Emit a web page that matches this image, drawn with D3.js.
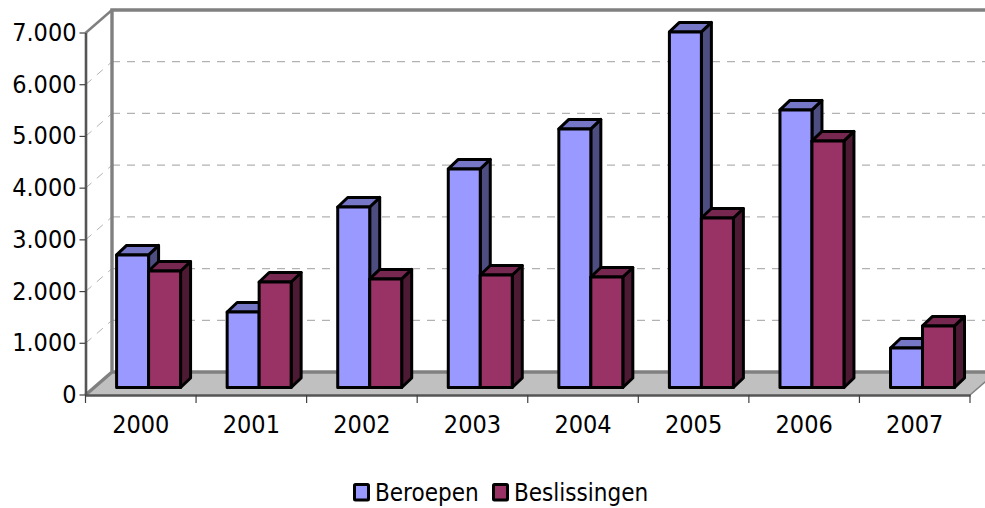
<!DOCTYPE html>
<html>
<head>
<meta charset="utf-8">
<script src="https://cdn.jsdelivr.net/npm/d3@7"></script>
<style>
  html, body { margin: 0; padding: 0; background: #fff; overflow: hidden; }
  text { font-family: "DejaVu Sans Condensed", "DejaVu Sans", sans-serif; fill: #000; }
</style>
</head>
<body>
<script>
//chart data
var years = ["2000", "2001", "2002", "2003", "2004", "2005", "2006", "2007"];
var beroepen = [2563, 1460, 3491, 4226, 5000, 6876, 5367, 764];
var beslissingen = [2253, 2040, 2099, 2176, 2137, 3278, 4768, 1190];
var seriesNames = ["Beroepen", "Beslissingen"];
var yTicks = [0, 1000, 2000, 3000, 4000, 5000, 6000, 7000];

var seriesValues = [beroepen, beslissingen];
var seriesColors = ["#9999ff", "#993366"];

var width = 985, height = 508;

//front plane of the 3d box
var plotLeft = 85.5, plotRight = 970, plotBottom = 395, plotTop = 33;
//how far the back wall sits from the front plane
var depthX = 26.5, depthY = 23;
//where the bars stand inside the box, and how deep they are
var barOffsetX = 7.8, barOffsetY = 7.5, barDepthX = 10, barDepthY = 9.5;

var svg = d3.select("body").append("svg")
    .attr("width", width)
    .attr("height", height);

var xScale = d3.scaleBand().domain(years).range([plotLeft, plotRight]).paddingInner(0).paddingOuter(0);
var yScale = d3.scaleLinear().domain([0, 7000]).range([plotBottom, plotTop]);
var seriesScale = d3.scaleBand().domain(seriesNames).range([0, xScale.bandwidth()]).paddingInner(0).paddingOuter(0.728);

//thousands with a dot, dutch style
var fmt = d3.formatLocale({decimal: ",", thousands: ".", grouping: [3], currency: ["€", ""]}).format(",d");

//gridlines on the back wall + the short diagonals on the side wall
var grid = svg.append("g");
yTicks.filter(function(d) { return d > 0 && d < 7000; }).forEach(function(d) {
    grid.append("line")
        .attr("x1", plotLeft + depthX).attr("x2", width)
        .attr("y1", yScale(d) - depthY).attr("y2", yScale(d) - depthY)
        .attr("stroke", "#b2b2b2").attr("stroke-width", 1.2)
        .attr("stroke-dasharray", "8,7");
    grid.append("line")
        .attr("x1", plotLeft).attr("x2", plotLeft + depthX)
        .attr("y1", yScale(d)).attr("y2", yScale(d) - depthY)
        .attr("stroke", "#b2b2b2").attr("stroke-width", 1)
        .attr("stroke-dasharray", "8,7");
});

//floor
svg.append("path")
    .attr("d", d3.line()([[plotLeft, plotBottom], [plotLeft + depthX, plotBottom - depthY], [plotRight + depthX, plotBottom - depthY], [plotRight, plotBottom]]) + "Z")
    .attr("fill", "#c0c0c0");

//walls
svg.append("path")
    .attr("d", d3.line()([[plotLeft, yScale(0)], [plotLeft + depthX, yScale(0) - depthY], [plotLeft + depthX, yScale(7000) - depthY], [width, yScale(7000) - depthY]]))
    .attr("fill", "none").attr("stroke", "#808080").attr("stroke-width", 3.4);
svg.append("line")
    .attr("x1", plotLeft + depthX).attr("x2", width)
    .attr("y1", plotBottom - depthY).attr("y2", plotBottom - depthY)
    .attr("stroke", "#808080").attr("stroke-width", 3.4);
svg.append("line")
    .attr("x1", plotLeft).attr("x2", plotLeft + depthX)
    .attr("y1", yScale(7000)).attr("y2", yScale(7000) - depthY)
    .attr("stroke", "#808080").attr("stroke-width", 2.5);
svg.append("line")
    .attr("x1", plotRight).attr("x2", plotRight + depthX)
    .attr("y1", plotBottom).attr("y2", plotBottom - depthY)
    .attr("stroke", "#808080").attr("stroke-width", 1.5);

//axes
var yAxis = svg.append("g")
    .attr("transform", "translate(" + plotLeft + ",-0.5)")
    .call(d3.axisLeft(yScale).tickValues(yTicks).tickFormat(fmt).tickSize(6).tickSizeOuter(0).tickPadding(3));
var xAxis = svg.append("g")
    .attr("transform", "translate(0," + plotBottom + ")")
    .call(d3.axisBottom(xScale).tickSize(0).tickPadding(20));
xAxis.selectAll(".tickmark")
    .data(d3.range(years.length + 1))
    .enter().append("line")
    .attr("class", "tickmark")
    .attr("x1", function(d) { return plotLeft + d * xScale.step(); })
    .attr("x2", function(d) { return plotLeft + d * xScale.step(); })
    .attr("y1", 0).attr("y2", 8)
    .attr("stroke", "#404040").attr("stroke-width", 1.2);
[yAxis, xAxis].forEach(function(a) {
    a.selectAll("text").style("font-size", "25px");
    a.attr("font-family", null).attr("font-size", null);
    a.select(".domain").attr("stroke", "#555").attr("stroke-width", 2.6);
    a.selectAll(".tick line").attr("stroke", "#404040").attr("stroke-width", 1.2);
});

//one 3d bar: side, top, then front
function drawBar(g, x, w, yTop, yBase, color) {
    var c = d3.rgb(color);
    var side = [[x + w, yTop], [x + w + barDepthX, yTop - barDepthY], [x + w + barDepthX, yBase - barDepthY], [x + w, yBase]];
    var topFace = [[x, yTop], [x + barDepthX, yTop - barDepthY], [x + w + barDepthX, yTop - barDepthY], [x + w, yTop]];
    var front = [[x, yTop], [x + w, yTop], [x + w, yBase], [x, yBase]];
    var faces = [
        [side, d3.rgb(c.r * 0.5, c.g * 0.5, c.b * 0.5)],
        [topFace, d3.rgb(c.r * 0.78, c.g * 0.78, c.b * 0.78)],
        [front, c]
    ];
    faces.forEach(function(f) {
        g.append("path")
            .attr("d", d3.line()(f[0]) + "Z")
            .attr("fill", f[1])
            .attr("stroke", "#000")
            .attr("stroke-width", 3)
            .attr("stroke-linejoin", "round");
    });
}

var bars = svg.append("g");
years.forEach(function(year, i) {
    seriesNames.forEach(function(name, s) {
        var x = xScale(year) + seriesScale(name) + barOffsetX;
        drawBar(bars, x, seriesScale.bandwidth(),
            yScale(seriesValues[s][i]) - barOffsetY,
            yScale(0) - barOffsetY,
            seriesColors[s]);
    });
});

//legend
var legendX = [354.5, 493.5], legendTextX = [375, 514];
var legend = svg.append("g");
seriesNames.forEach(function(name, s) {
    legend.append("rect")
        .attr("x", legendX[s]).attr("y", 484.5)
        .attr("width", 14).attr("height", 15.5)
        .attr("rx", 1)
        .attr("fill", seriesColors[s])
        .attr("stroke", "#000").attr("stroke-width", 3);
    legend.append("text")
        .attr("x", legendTextX[s]).attr("y", 501)
        .style("font-size", "24px")
        .text(name);
});
</script>
</body>
</html>
